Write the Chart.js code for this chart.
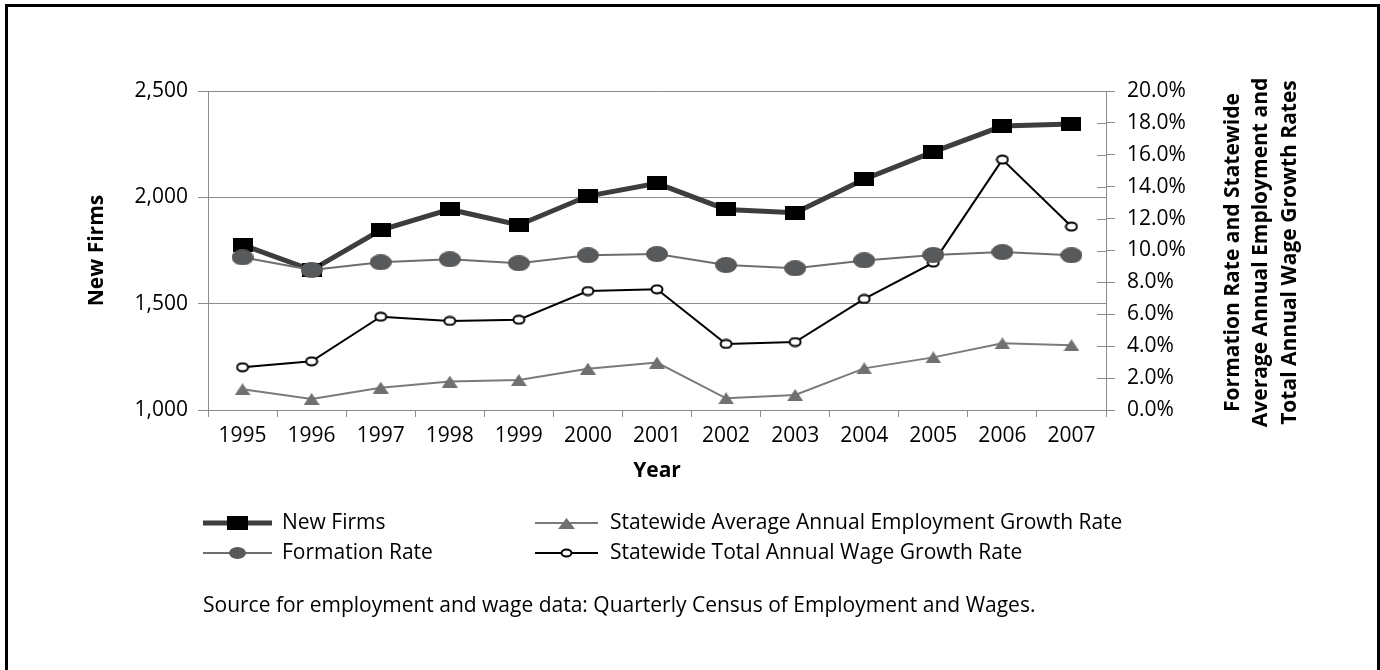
<!DOCTYPE html>
<html>
<head>
<meta charset="utf-8">
<script src="https://cdn.jsdelivr.net/npm/chart.js@4/dist/chart.umd.min.js"></script>
<style>
  html, body { margin: 0; padding: 0; background: #fff; overflow: hidden; }
  #frame { position: absolute; left: 5px; top: 4px; width: 1369px; height: 700px; border: 3px solid #000; border-bottom: none; }
  #chart { position: absolute; left: 0; top: 0; }
</style>
</head>
<body>
<div id="frame"></div>
<canvas id="chart" width="1380" height="670"></canvas>
<script>
// data
const years = ["1995", "1996", "1997", "1998", "1999", "2000", "2001", "2002", "2003", "2004", "2005", "2006", "2007"];
const newFirms = [1776, 1658, 1846, 1943, 1870, 2006, 2066, 1943, 1928, 2085, 2214, 2335, 2345];
const formationRate = [9.57, 8.78, 9.26, 9.45, 9.2, 9.7, 9.78, 9.09, 8.88, 9.38, 9.72, 9.9, 9.7];
const employmentGrowth = [1.3, 0.69, 1.4, 1.78, 1.88, 2.59, 2.97, 0.73, 0.94, 2.61, 3.3, 4.18, 4.06];
const wageGrowth = [2.68, 3.05, 5.85, 5.58, 5.66, 7.46, 7.57, 4.14, 4.26, 6.96, 9.24, 15.7, 11.5];

const seriesNames = ["New Firms", "Formation Rate", "Statewide Average Annual Employment Growth Rate", "Statewide Total Annual Wage Growth Rate"];
const leftTitle = "New Firms";
const bottomTitle = "Year";
const rightTitle = ["Formation Rate and Statewide", "Average Annual Employment and", "Total Annual Wage Growth Rates"];
const sourceNote = "Source for employment and wage data: Quarterly Census of Employment and Wages.";

const FONT = "'Open Sans', 'Noto Sans', sans-serif";
Chart.defaults.font.family = FONT;
Chart.defaults.font.size = 21;
Chart.defaults.color = "#000";

// marker images (excel style, slightly flattened)
function marker(w, h, draw) {
  const c = document.createElement("canvas");
  c.width = w;
  c.height = h;
  draw(c.getContext("2d"), w, h);
  return c;
}
function square(w, h) {
  return marker(w, h, (g) => { g.fillStyle = "#000"; g.fillRect(0, 0, w, h); });
}
function blob(w, h, color) {
  return marker(w, h, (g) => {
    g.fillStyle = color;
    g.beginPath();
    g.ellipse(w / 2, h / 2, w / 2, h / 2, 0, 0, Math.PI * 2);
    g.fill();
  });
}
function triangle(w, h) {
  return marker(w, h, (g) => {
    g.fillStyle = "#707070";
    g.beginPath();
    g.moveTo(w / 2, 0);
    g.lineTo(w, h);
    g.lineTo(0, h);
    g.closePath();
    g.fill();
  });
}
function ring(w, h) {
  return marker(w, h, (g) => {
    g.fillStyle = "#fff";
    g.strokeStyle = "#000";
    g.lineWidth = 2;
    g.beginPath();
    g.ellipse(w / 2, h / 2, w / 2 - 1.5, h / 2 - 1.5, 0, 0, Math.PI * 2);
    g.fill();
    g.stroke();
  });
}

const marks = {
  firms: square(20, 14),
  formation: blob(22, 16, "#58595b"),
  employment: triangle(16, 12),
  wage: ring(14, 11)
};
const legendMarks = [square(21, 14), blob(17, 12, "#58595b"), triangle(17, 11), ring(13, 10)];

const extras = {
  id: "extras",
  afterDraw(chart) {
    const ctx = chart.ctx;
    const area = chart.chartArea;
    const y1 = chart.scales.y1;

    ctx.save();
    // right axis ticks cross the axis line
    ctx.strokeStyle = "#8c8c8c";
    ctx.lineWidth = 1;
    y1.ticks.forEach(t => {
      const py = Math.round(y1.getPixelForValue(t.value)) + 0.5;
      ctx.beginPath();
      ctx.moveTo(area.right - 9, py);
      ctx.lineTo(area.right, py);
      ctx.stroke();
    });

    // right axis title, reading bottom to top
    ctx.fillStyle = "#000";
    ctx.font = "bold 21px " + FONT;
    ctx.textAlign = "center";
    ctx.textBaseline = "middle";
    const cy = (area.top + area.bottom) / 2 + 2;
    rightTitle.forEach((line, i) => {
      ctx.save();
      ctx.translate(area.right + 127 + i * 28.5, cy);
      ctx.rotate(-Math.PI / 2);
      ctx.fillText(line, 0, 0);
      ctx.restore();
    });

    // legend, two columns
    const cols = [{ x0: 203, x1: 272, tx: 282 }, { x0: 535, x1: 598, tx: 610 }];
    const rows = [523, 553];
    const spots = [[0, 0], [0, 1], [1, 0], [1, 1]];
    ctx.font = "21px " + FONT;
    ctx.textAlign = "left";
    chart.data.datasets.forEach((ds, i) => {
      const col = cols[spots[i][0]];
      const y = rows[spots[i][1]];
      ctx.strokeStyle = ds.borderColor;
      ctx.lineWidth = ds.borderWidth;
      ctx.beginPath();
      ctx.moveTo(col.x0, y);
      ctx.lineTo(col.x1, y);
      ctx.stroke();
      const m = legendMarks[i];
      ctx.drawImage(m, Math.round((col.x0 + col.x1) / 2 - m.width / 2), Math.round(y - m.height / 2));
      ctx.fillStyle = "#000";
      ctx.fillText(ds.label, col.tx, y);
    });

    ctx.fillText(sourceNote, 203, 606);
    ctx.restore();
  }
};

new Chart(document.getElementById("chart"), {
  type: "line",
  data: {
    labels: years,
    datasets: [
      {
        label: seriesNames[0],
        data: newFirms,
        yAxisID: "y",
        borderColor: "#3d3d3d",
        borderWidth: 5,
        pointStyle: marks.firms,
        pointRadius: 6,
        order: 4
      },
      {
        label: seriesNames[1],
        data: formationRate,
        yAxisID: "y1",
        borderColor: "#6e6e6e",
        borderWidth: 2,
        pointStyle: marks.formation,
        pointRadius: 6,
        order: 1
      },
      {
        label: seriesNames[2],
        data: employmentGrowth,
        yAxisID: "y1",
        borderColor: "#7a7a7a",
        borderWidth: 2,
        pointStyle: marks.employment,
        pointRadius: 6,
        order: 2
      },
      {
        label: seriesNames[3],
        data: wageGrowth,
        yAxisID: "y1",
        borderColor: "#000",
        borderWidth: 2,
        pointStyle: marks.wage,
        pointRadius: 6,
        order: 3
      }
    ]
  },
  options: {
    responsive: false,
    animation: false,
    events: [],
    layout: { padding: { left: 0, top: 91, right: 0, bottom: 185 } },
    plugins: {
      legend: { display: false },
      tooltip: { enabled: false }
    },
    scales: {
      x: {
        offset: true,
        grid: { drawOnChartArea: false, tickLength: 7, color: "#8c8c8c", offset: true },
        border: { color: "#8c8c8c" },
        ticks: { padding: 6, maxRotation: 0, autoSkip: false, color: "#000" },
        title: { display: true, text: bottomTitle, font: { weight: "bold", size: 21 }, padding: { top: 0, bottom: 1 } },
        afterFit: s => { s.height = 75; }
      },
      y: {
        position: "left",
        min: 1000,
        max: 2500,
        ticks: { stepSize: 500, padding: 10, color: "#000" },
        grid: { color: "#8c8c8c", tickLength: 10 },
        border: { color: "#8c8c8c" },
        title: { display: true, text: leftTitle, font: { weight: "bold", size: 21 }, padding: { top: 84, bottom: 0 } },
        afterFit: s => { s.width = 208; }
      },
      y1: {
        position: "right",
        min: 0,
        max: 20,
        ticks: { stepSize: 2, padding: 12, color: "#000", callback: v => v.toFixed(1) + "%" },
        grid: { drawOnChartArea: false, tickLength: 9, color: "#8c8c8c" },
        border: { color: "#8c8c8c" },
        afterFit: s => { s.width = 274; }
      }
    }
  },
  plugins: [extras]
});
</script>
</body>
</html>
